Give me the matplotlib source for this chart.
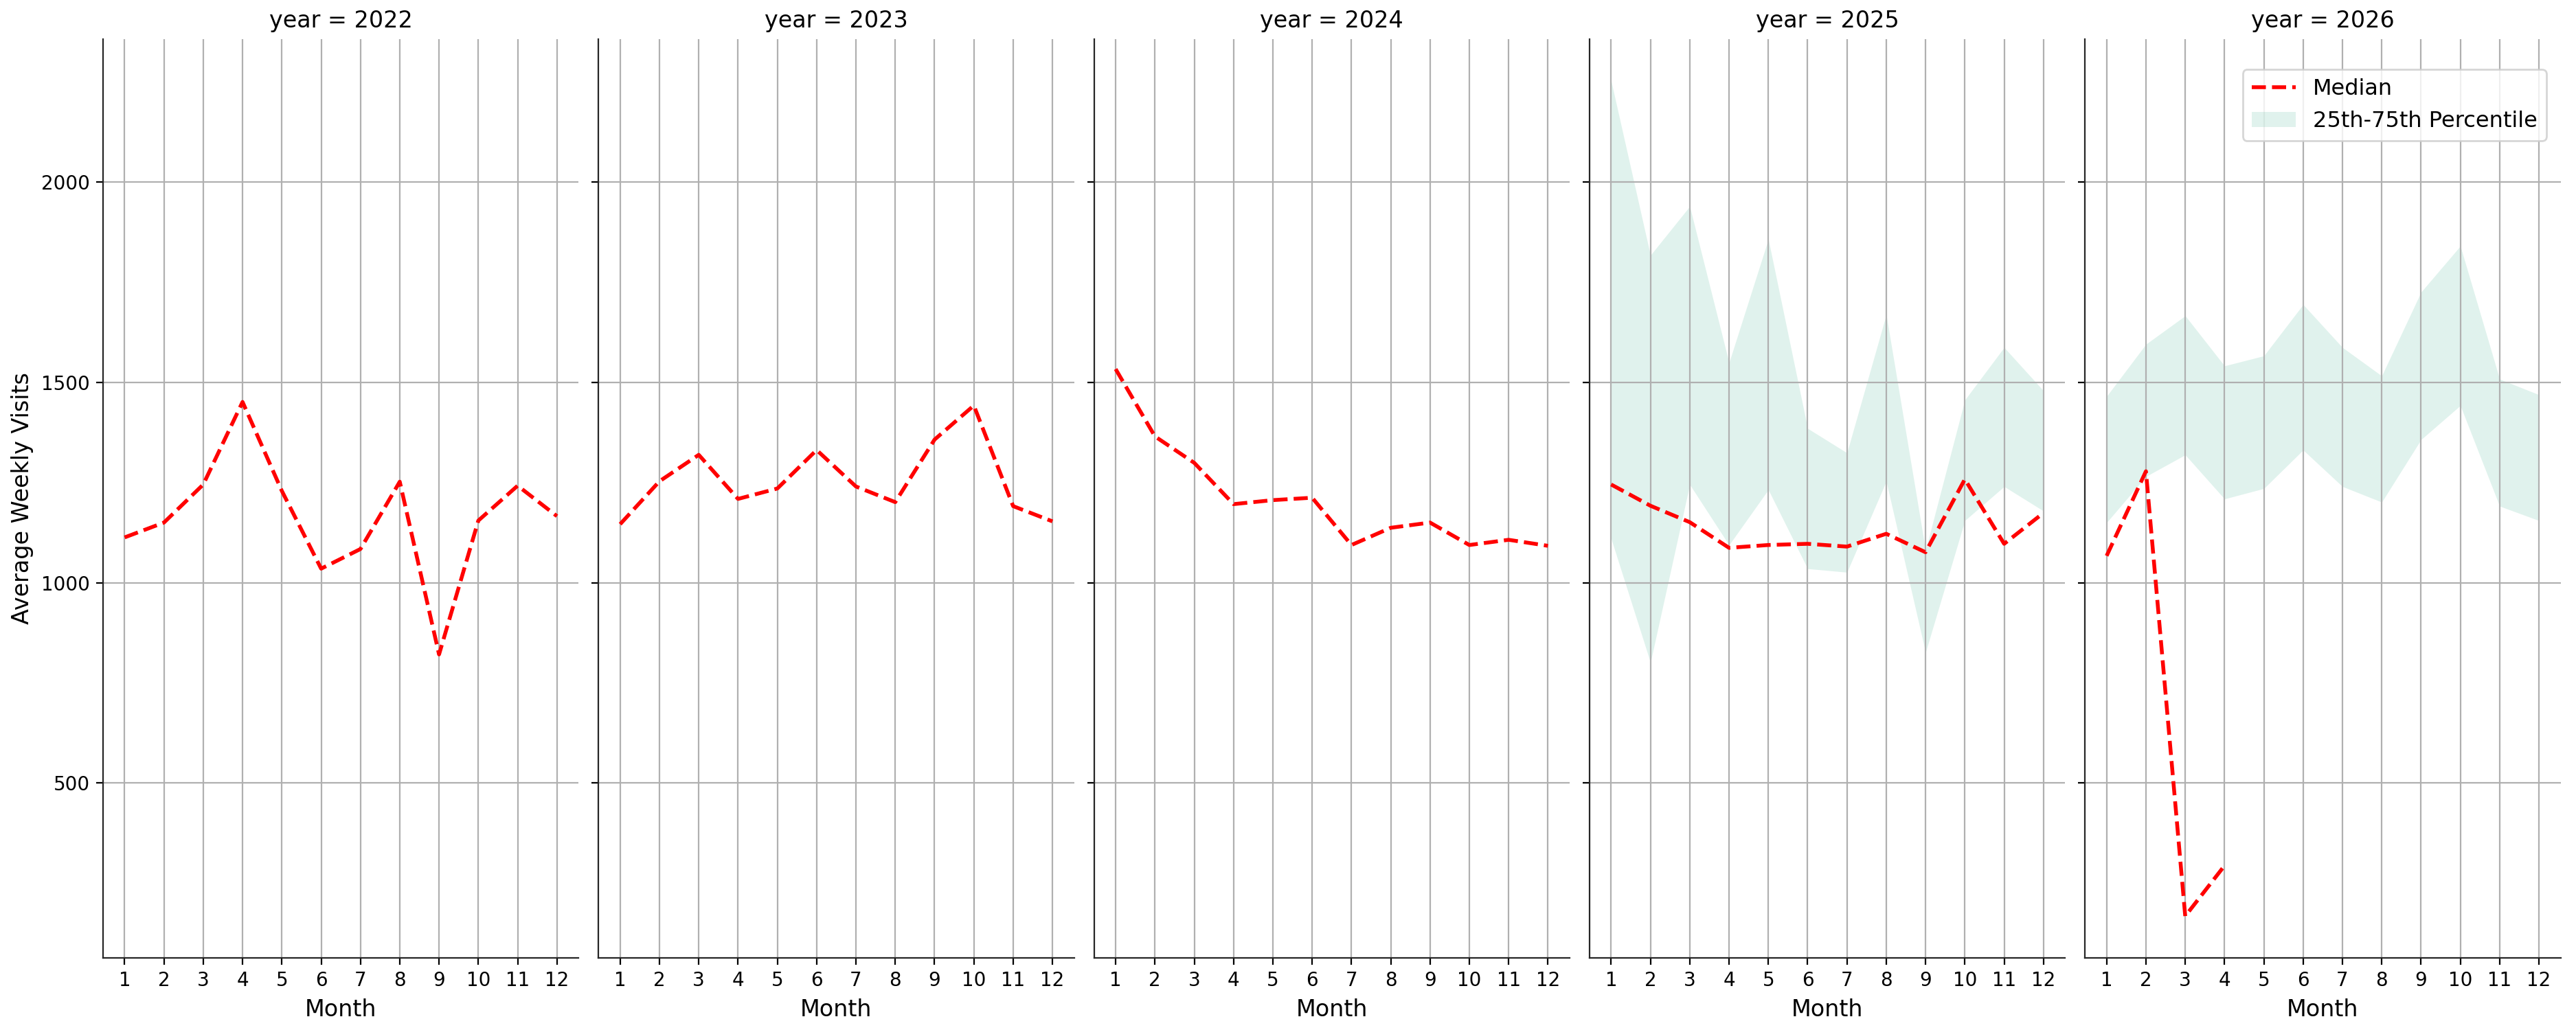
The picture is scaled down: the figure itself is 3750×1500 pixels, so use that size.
import matplotlib
matplotlib.use("Agg")
import matplotlib.pyplot as plt
import numpy as np

years = [2022, 2023, 2024, 2025, 2026]
months = list(range(1, 13))

# median of average weekly visits per month, per year
median = {
    2022: [1113, 1150, 1245, 1451, 1229, 1035, 1084, 1252, 821, 1155, 1242, 1166],
    2023: [1146, 1253, 1319, 1209, 1235, 1331, 1240, 1201, 1357, 1442, 1191, 1153],
    2024: [1533, 1365, 1299, 1196, 1206, 1212, 1094, 1137, 1150, 1094, 1107, 1092],
    2025: [1245, 1192, 1151, 1087, 1094, 1097, 1090, 1122, 1076, 1258, 1097, 1174],
    2026: [1067, 1278, 168, 294],
}

# 25th-75th percentile band (only shown for 2025 and 2026)
p25 = {
    2025: [1110, 801, 1245, 1094, 1232, 1035, 1026, 1253, 826, 1155, 1240, 1179],
    2026: [1150, 1265, 1319, 1209, 1235, 1331, 1240, 1201, 1357, 1442, 1191, 1155],
}
p75 = {
    2025: [2252, 1817, 1939, 1549, 1857, 1385, 1324, 1669, 1081, 1456, 1587, 1479],
    2026: [1465, 1595, 1666, 1541, 1566, 1694, 1587, 1516, 1725, 1840, 1508, 1469],
}

fig, axes = plt.subplots(1, 5, figsize=(18.75, 7.5), sharey=True)
fig.subplots_adjust(left=0.040, right=0.994, top=0.962, bottom=0.070, wspace=0.042)

for ax, yr in zip(axes, years):
    if yr in p25:
        ax.fill_between(months, p25[yr], p75[yr], color="#66c2a5", alpha=0.2,
                        linewidth=0, label="25th-75th Percentile")
    m = median[yr]
    ax.plot(months[:len(m)], m, color="red", linestyle="--", linewidth=2, label="Median")
    ax.set_title(f"year = {yr}", fontsize=12)
    ax.set_xlabel("Month", fontsize=12)
    ax.set_xticks(months)
    ax.tick_params(labelsize=10)
    ax.grid(True)
    for s in ["top", "right"]:
        ax.spines[s].set_visible(False)
    for s in ["left", "bottom"]:
        ax.spines[s].set_color("#262626")

axes[0].set_ylabel("Average Weekly Visits", fontsize=12)
axes[0].set_yticks([500, 1000, 1500, 2000])

h, l = axes[-1].get_legend_handles_labels()
order = [l.index("Median"), l.index("25th-75th Percentile")]
axes[-1].legend([h[i] for i in order], [l[i] for i in order], loc="upper right",
                bbox_to_anchor=(0.97, 0.967), borderaxespad=0, fontsize=11.5)

fig.savefig("out.png", dpi=200)
